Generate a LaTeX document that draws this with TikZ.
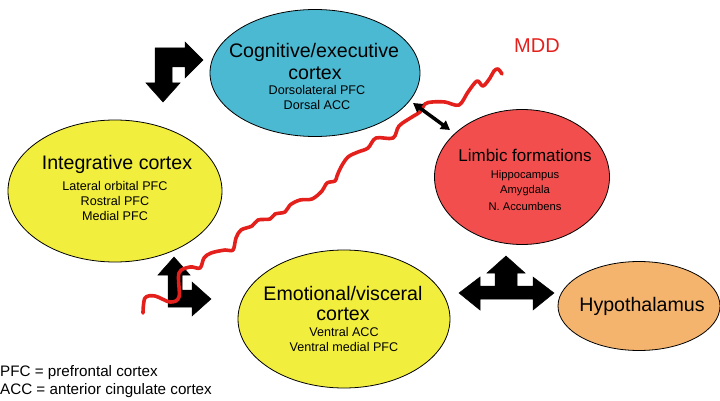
\documentclass[tikz,border=0pt]{standalone}
\usepackage{fontspec}
\setmainfont{Liberation Sans}
\usetikzlibrary{shapes.geometric,arrows.meta}
\definecolor{cyanc}{HTML}{4BB9D2}
\definecolor{yelc}{HTML}{F2EE3E}
\definecolor{redc}{HTML}{F24E4E}
\definecolor{orc}{HTML}{F4B46E}
\definecolor{mddc}{HTML}{E4201C}
\tikzset{
  region/.style={ellipse, draw=black, line width=0.8pt, inner sep=0pt},
  big/.style={font=\fontsize{19.6}{22}\selectfont, inner sep=0pt},
  small/.style={font=\fontsize{12.6}{14}\selectfont, inner sep=0pt},
  limbig/.style={font=\fontsize{17}{20}\selectfont, inner sep=0pt},
  limsmall/.style={font=\fontsize{11.2}{13}\selectfont, inner sep=0pt},
  legend/.style={font=\fontsize{15.2}{17}\selectfont, inner sep=0pt, anchor=west},
  blockarrow/.style={fill=black, draw=black, line width=0.5pt, line join=miter},
}
\begin{document}
\begin{tikzpicture}[x=1pt,y=-1pt]
\useasboundingbox (0,0) rectangle (720,401);
% regions
\node[region, fill=cyanc, minimum width=210, minimum height=127] (cog) at (315,73) {};
\node[region, fill=yelc, minimum width=214, minimum height=142] (integ) at (115,191) {};
\node[region, fill=redc, minimum width=175, minimum height=135] (limb) at (522,177) {};
\node[region, fill=yelc, minimum width=212, minimum height=138] (emo) at (344,319) {};
\node[region, fill=orc, minimum width=162, minimum height=89] (hyp) at (639,306) {};
% texts
\node[big] (cogA) at (314,52) {Cognitive/executive};
\node[big] (cogB) at (315,73) {cortex};
\node[small] (cogC) at (317,90) {Dorsolateral PFC};
\node[small] (cogD) at (317,105) {Dorsal ACC};
\node[big] (intA) at (117,164) {Integrative cortex};
\node[small] (intB) at (115,186) {Lateral orbital PFC};
\node[small] (intC) at (115,201) {Rostral PFC};
\node[small] (intD) at (115,216) {Medial PFC};
\node[limbig] (limA) at (525,155) {Limbic formations};
\node[limsmall] (limB) at (525,176) {Hippocampus};
\node[limsmall] (limC) at (525,191) {Amygdala};
\node[limsmall] (limD) at (525,206) {N. Accumbens};
\node[big] (emoA) at (343,293) {Emotional/visceral};
\node[big] (emoB) at (343,314) {cortex};
\node[small] (emoC) at (344,332) {Ventral ACC};
\node[small] (emoD) at (344,347) {Ventral medial PFC};
\node[big] (hypA) at (642,306) {Hypothalamus};
\node[font=\fontsize{20}{22}\selectfont, text=mddc, inner sep=0pt] (mdd) at (537,46) {MDD};
\node[legend] (leg1) at (0,373) {PFC = prefrontal cortex};
\node[legend] (leg2) at (0,391) {ACC = anterior cingulate cortex};
% block arrows
\fill[blockarrow] (155,48) -- (185,48) -- (185,42) -- (203,60) -- (185,78) -- (185,67)
  -- (172,67) -- (172,83) -- (180,83) -- (163,102) -- (146,83) -- (155,83) -- cycle;
\fill[blockarrow] (174,257) -- (190,275) -- (182,275) -- (182,290) -- (192,290) -- (192,282)
  -- (211,299) -- (192,316) -- (192,307) -- (168,307) -- (168,275) -- (158,275) -- cycle;
\fill[blockarrow] (506,256) -- (525,273) -- (517,273) -- (517,286) -- (533,286) -- (533,277)
  -- (554,293) -- (533,310) -- (533,299) -- (480,299) -- (480,310) -- (459,293) -- (480,277)
  -- (480,286) -- (495,286) -- (495,273) -- (487,273) -- cycle;
% MDD wavy line
\draw[mddc, line width=3.6pt, line cap=round, line join=round]
  plot[smooth, tension=0.55] coordinates {
  (143,313) (145,298) (155,296) (170,302) (179,297) (179,273) (190,267) (200,268)
  (204,258) (211,253) (225,250) (233,250) (236,238) (241,230) (252,226) (258,220)
  (270,219) (275,214) (285,212) (290,205) (300,200) (312,199) (322,191) (327,183)
  (335,181) (337,176) (341,167) (348,157) (358,152) (368,148) (376,138) (393,138)
  (399,126) (412,117) (420,112) (425,104) (432,102) (445,102) (459,105) (468,92)
  (477,81) (483,86) (490,78) (494,71) (498,69) (502,74)};
% cog - limbic arrow
\coordinate (c1) at (413,103);
\coordinate (c2) at (450,130);
\draw[line width=3.5pt, {Triangle[length=9pt,width=10pt]}-{Triangle[length=9pt,width=10pt]}] (c1) -- (c2);
\end{tikzpicture}
\end{document}
